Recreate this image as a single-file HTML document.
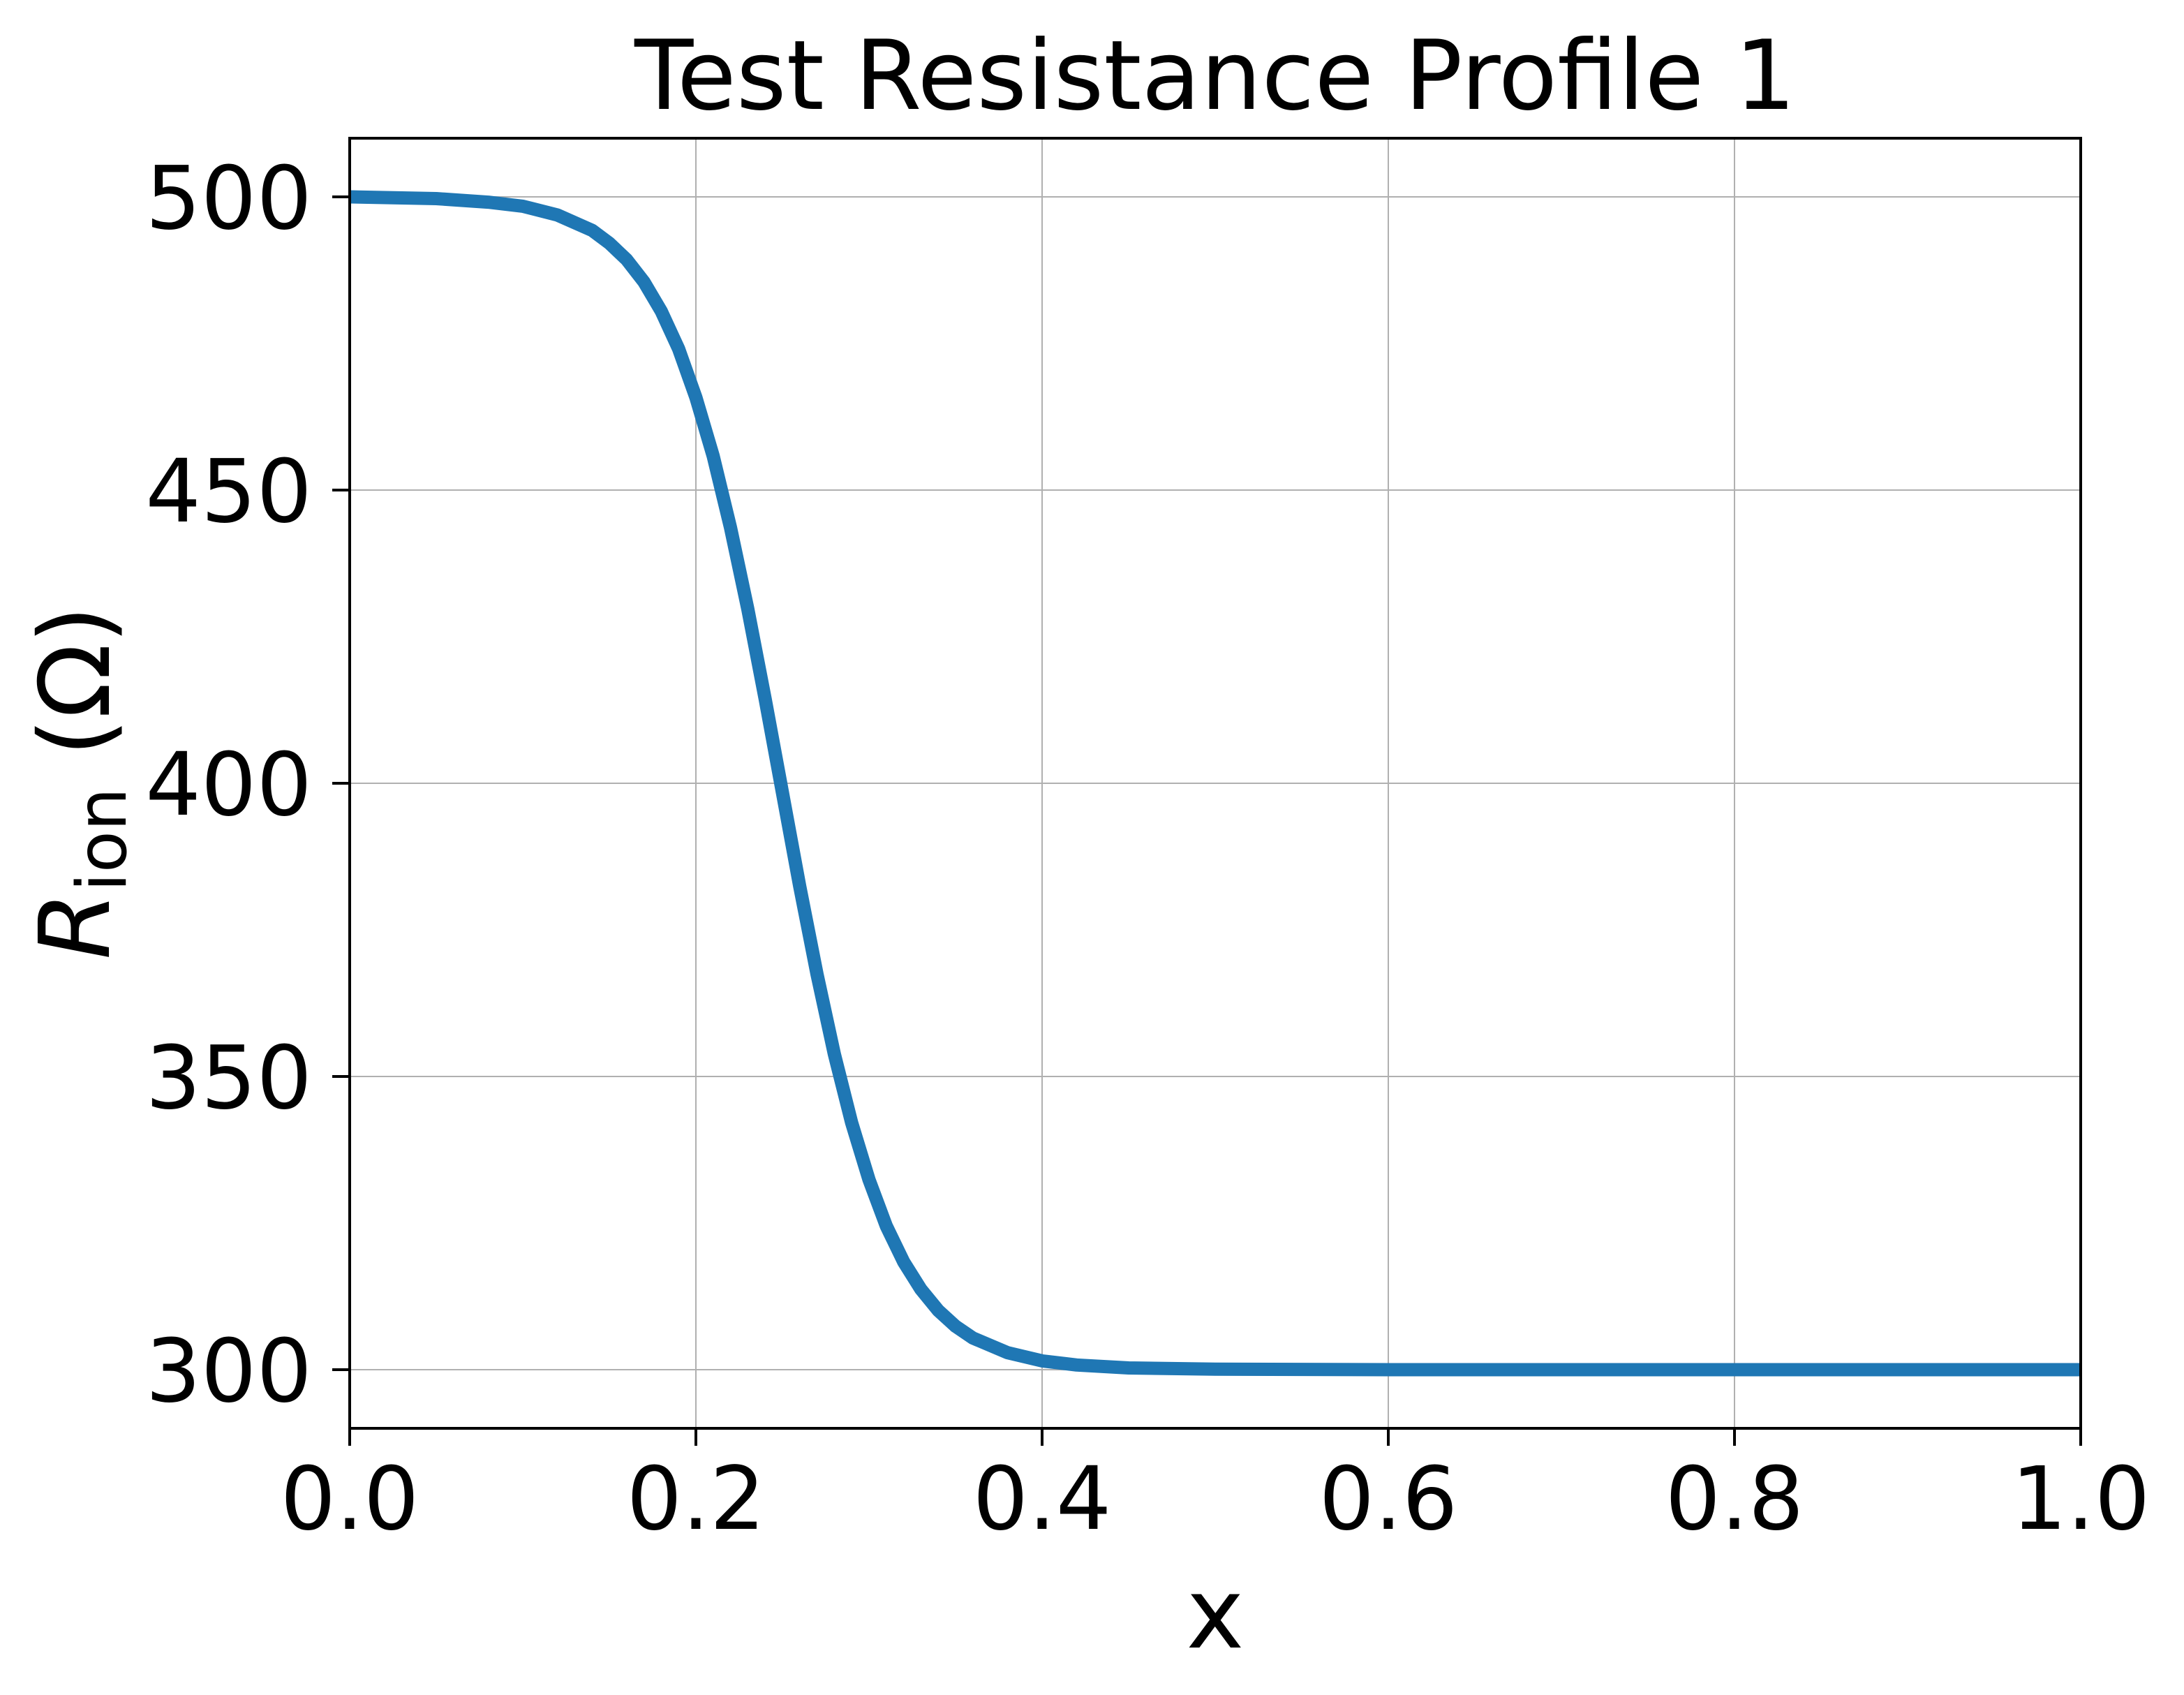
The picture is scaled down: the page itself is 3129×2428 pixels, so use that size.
<!DOCTYPE html>
<html><head><meta charset="utf-8"><style>
html,body{margin:0;padding:0;background:#fff;}
svg{display:block;font-family:"DejaVu Sans","Liberation Sans",sans-serif;}
</style></head><body>
<svg id="chart" width="3129" height="2428" viewBox="0 0 3129 2428" xmlns="http://www.w3.org/2000/svg">
<rect width="3129" height="2428" fill="#fff"/>
<text x="1741" y="156" font-size="138" text-anchor="middle">Test Resistance Profile 1</text>
<g id="grid"></g>
<g id="series"></g>
<rect x="501" y="198" width="2480" height="1848" fill="none" stroke="#000" stroke-width="4"/>
<g id="ticks"></g>
<text x="1741" y="2360" font-size="140" text-anchor="middle">x</text>
<text transform="translate(156,1121) rotate(-90)" font-size="140" text-anchor="middle"><tspan font-style="italic">R</tspan><tspan font-size="98" dy="24">ion</tspan><tspan dy="-24"> (Ω)</tspan></text>
</svg>
<script>
const xTicks = [0, 0.2, 0.4, 0.6, 0.8, 1.0];
const xTickLabels = ["0.0", "0.2", "0.4", "0.6", "0.8", "1.0"];
const yTicks = [300, 350, 400, 450, 500];
const yTickLabels = ["300", "350", "400", "450", "500"];
const xValues = [0.00,0.05,0.08,0.10,0.12,0.14,0.15,0.16,0.17,0.18,0.19,0.20,0.21,0.22,0.23,0.24,0.25,0.26,0.27,0.28,0.29,0.30,0.31,0.32,0.33,0.34,0.35,0.36,0.38,0.40,0.42,0.45,0.50,0.60,0.80,1.00];
const rValues = [500.0,499.7,499.1,498.4,496.9,494.3,492.1,489.3,485.5,480.5,474.1,465.8,455.8,443.6,429.7,414.4,398.4,382.4,367.4,353.8,342.1,332.4,324.5,318.4,313.7,310.1,307.4,305.4,302.9,301.5,300.8,300.3,300.1,300.0,300.0,300.0];

const NS = "http://www.w3.org/2000/svg";
const L = 501, R = 2981, T = 198, B = 2046;
const xMin = 0, xMax = 1, yMin = 290, yMax = 510;
function sx(v){ return L + (v - xMin) / (xMax - xMin) * (R - L); }
function sy(v){ return B - (v - yMin) / (yMax - yMin) * (B - T); }
function mk(tag, attrs, parent){
  const el = document.createElementNS(NS, tag);
  for (const k in attrs) el.setAttribute(k, attrs[k]);
  parent.appendChild(el);
  return el;
}
const grid = document.getElementById('grid');
const ticks = document.getElementById('ticks');
const series = document.getElementById('series');

xTicks.forEach((v, i) => {
  const x = sx(v);
  const g = mk('line', {x1:x, x2:x, y1:T, y2:B, stroke:'#b0b0b0', 'stroke-width':2}, grid);
  
  
  const t = mk('line', {x1:x, x2:x, y1:B, y2:B+25, stroke:'#000', 'stroke-width':4}, ticks);
  
  
  const lb = mk('text', {x:x, y:2190, 'font-size':125, 'text-anchor':'middle'}, ticks);
  lb.textContent = xTickLabels[i];
  
  
});
yTicks.forEach((v, i) => {
  const y = sy(v);
  const g = mk('line', {x1:L, x2:R, y1:y, y2:y, stroke:'#b0b0b0', 'stroke-width':2}, grid);
  
  
  const t = mk('line', {x1:L-25, x2:L, y1:y, y2:y, stroke:'#000', 'stroke-width':4}, ticks);
  
  
  const lb = mk('text', {x:447, y:y+45, 'font-size':125, 'text-anchor':'end'}, ticks);
  lb.textContent = yTickLabels[i];
  
  
});
const pts = xValues.map((v, i) => sx(v).toFixed(1) + ',' + sy(rValues[i]).toFixed(1)).join(' ');
const line = mk('polyline', {points:pts, fill:'none', stroke:'#1f77b4', 'stroke-width':19, 'stroke-linejoin':'round'}, series);


</script>
</body></html>
